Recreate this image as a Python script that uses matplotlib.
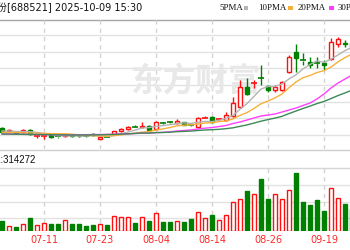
import matplotlib
matplotlib.use("Agg")
import matplotlib.pyplot as plt
from matplotlib.patches import Rectangle
from matplotlib.lines import Line2D

# ---------------- data ----------------
title = "芯原股份[688521] 2025-10-09 15:30"
tick_idx = [6, 14, 22, 30, 38, 46]
tick_labels = ["07-11", "07-23", "08-04", "08-14", "08-26", "09-19"]

opens = [88.4, 84.8, 83.6, 83.6, 86.0, 78.4, 78.4, 80.6, 78.8, 78.8, 80.0, 79.4, 79.4, 81.2, 75.8, 77.6,
         81.2, 84.8, 87.2, 89.6, 89.6, 90.8, 87.2, 94.4, 95.6, 94.4, 95.6, 92.6, 89.6, 99.8, 101.6, 98.6,
         98.0, 102.8, 113.6, 137.6, 141.8, 148.4, 138.8, 134.0, 134.0, 155.6, 179.6, 170.0, 167.6, 166.4,
         166.4, 171.2, 189.2, 191.0, 190.4]
closes = [83.6, 86.0, 82.4, 86.6, 81.2, 79.2, 79.2, 78.2, 78.2, 80.0, 78.8, 78.4, 78.8, 80.0, 77.6, 77.0,
          84.8, 87.8, 90.2, 89.0, 90.8, 86.6, 95.6, 93.8, 95.0, 96.8, 92.0, 92.0, 100.4, 100.4, 95.6, 99.2,
          104.0, 118.4, 137.6, 129.2, 142.4, 147.8, 134.0, 137.6, 143.6, 173.6, 172.4, 169.4, 164.0, 166.0,
          164.0, 191.6, 195.2, 189.8, 185.6]
highs = [89.6, 87.2, 84.8, 87.2, 87.2, 80.0, 79.4, 81.2, 79.4, 81.2, 80.6, 80.0, 80.0, 82.4, 78.2, 78.2,
         85.4, 88.4, 90.8, 92.0, 95.6, 91.4, 96.8, 95.6, 97.4, 99.2, 96.2, 93.8, 101.6, 102.8, 102.8, 100.4,
         107.6, 125.6, 146.0, 148.4, 146.0, 164.0, 140.0, 140.0, 144.8, 176.0, 189.2, 178.4, 173.6, 173.6,
         170.0, 196.4, 197.6, 194.0, 192.8]
lows = [82.4, 83.6, 81.2, 82.4, 80.0, 76.4, 75.8, 77.0, 77.0, 78.2, 78.2, 77.6, 78.2, 79.4, 75.2, 76.4,
        80.6, 84.2, 86.6, 88.4, 89.0, 86.0, 86.6, 92.6, 93.8, 93.8, 91.4, 90.8, 89.0, 99.8, 95.0, 97.4,
        97.4, 102.2, 113.0, 128.6, 136.4, 140.0, 131.6, 131.6, 133.4, 155.0, 155.6, 164.0, 160.4, 160.4,
        158.0, 170.6, 185.6, 185.6, 183.2]
volumes = [145000, 77000, 54000, 97000, 184000, 87000, 111000, 106000, 106000, 159000, 97000, 106000,
           72000, 83000, 97000, 83000, 222000, 207000, 207000, 120000, 198000, 149000, 256000, 126000,
           126000, 145000, 135000, 174000, 279000, 184000, 227000, 159000, 236000, 420000, 459000, 579000,
           536000, 749000, 463000, 531000, 459000, 594000, 844000, 424000, 372000, 445000, 294000, 618000,
           473000, 395000, 314272]
ma5 = [84.8, 84.8, 84.2, 84.2, 84.0, 83.1, 81.7, 80.8, 79.2, 78.9, 78.9, 78.7, 78.8, 79.2, 78.7, 78.3,
       79.6, 81.4, 83.5, 85.8, 88.5, 88.9, 90.4, 91.2, 92.4, 93.6, 94.6, 93.9, 95.2, 96.3, 96.1, 97.5,
       99.9, 103.5, 111.0, 117.7, 126.3, 135.1, 138.2, 138.2, 141.1, 147.3, 152.2, 159.3, 164.6, 169.0,
       167.1, 171.0, 176.1, 181.3, 185.2]
ma10 = [83.0, 83.0, 83.0, 82.6, 82.4, 82.2, 81.9, 81.7, 81.6, 81.4, 81.0, 80.1, 79.8, 79.2, 78.8, 78.6,
        79.2, 80.1, 81.3, 82.2, 83.4, 84.2, 85.9, 87.3, 89.0, 91.0, 91.8, 92.1, 93.2, 94.3, 94.8, 96.1,
        96.9, 99.3, 103.6, 106.9, 111.9, 117.4, 120.8, 124.5, 129.3, 136.8, 143.6, 148.8, 151.4, 155.0,
        157.2, 161.6, 167.7, 172.9, 177.1]
ma20 = [81.2, 81.1, 81.0, 80.8, 80.7, 80.6, 80.5, 80.4, 80.2, 80.2, 80.2, 80.2, 80.4, 80.5, 80.6, 80.7,
        81.0, 81.2, 81.4, 81.8, 82.2, 82.2, 82.8, 83.2, 83.8, 84.8, 85.4, 86.1, 87.2, 88.2, 89.0, 90.1,
        91.4, 93.8, 95.6, 98.0, 100.4, 102.8, 104.0, 105.2, 107.6, 110.0, 112.4, 115.4, 118.4, 123.2,
        129.2, 136.4, 142.4, 147.2, 152.0]
ma30 = [81.2, 81.1, 81.0, 80.8, 80.7, 80.6, 80.5, 80.4, 80.2, 80.1, 80.0, 80.0, 80.0, 80.1, 80.2, 80.5,
        80.7, 81.1, 81.4, 81.9, 82.4, 82.4, 82.9, 83.0, 83.4, 84.0, 84.3, 84.7, 85.4, 86.0, 86.4, 86.8,
        87.6, 88.6, 90.4, 92.1, 94.3, 96.6, 98.5, 100.3, 102.4, 105.7, 108.8, 111.8, 114.7, 117.7,
        120.3, 123.7, 127.3, 130.5, 133.8]
ma_names = ["5PMA", "10PMA", "20PMA", "30PMA"]
ma_colors = ["#b4b4b4", "#f7b03a", "#ff40ff", "#3b8a57"]
price_grid = [80, 100, 120, 140, 160, 180, 200]
last_vol_label = "VOL:314272"

# ---------------- layout helpers ----------------
W, H = 350, 250
def fx(px):
    return px / W
def fy(py):
    return 1 - py / H

UP = "#ff1010"
DOWN = "#008000"
GRID = "#e2e2e2"
VGRID = "#d2d2d2"

fig = plt.figure(figsize=(W / 100, H / 100), dpi=100)
fig.patch.set_facecolor("white")

X0, X1 = -2 / 7, 348 / 7
ax = fig.add_axes([0, fy(149), 1, (149 - 19) / H])
axv = fig.add_axes([0, fy(231), 1, (231 - 167) / H])
for a in (ax, axv):
    a.set_xlim(X0, X1)
    for s in a.spines.values():
        s.set_visible(False)
    a.set_yticks([])
    a.patch.set_alpha(0)
ax.set_xticks([])
ax.set_ylim(63.2, 219.2)
axv.set_ylim(0, 926720)

def hline_px(y, color):
    fig.add_artist(Line2D([0, 1], [fy(y + 0.5), fy(y + 0.5)], color=color, lw=1,
                          transform=fig.transFigure, zorder=0))

# frame / grid lines
hline_px(19, "#a6a6a6")
hline_px(149, "#cfcfcf")
hline_px(167, "#d6d6d6")
for y in (184, 201, 217):
    hline_px(y, GRID)
for p in price_grid:
    ax.axhline(p, color=GRID, lw=1, zorder=0)
for t in tick_idx:
    ax.axvline(t, color=VGRID, lw=1, ls=(0, (3, 3)), zorder=0)
    axv.axvline(t, color=VGRID, lw=1, ls=(0, (3, 3)), zorder=0)

# watermark
ax.text(fx(195), fy(81), "东方财富", transform=fig.transFigure, ha="center", va="center",
        fontsize=23.5, color="#e8e8e8", family="Noto Sans CJK SC", fontweight="bold", zorder=1)

# candles
for i, (o, h, l, c) in enumerate(zip(opens, highs, lows, closes)):
    up = c >= o
    col = UP if up else DOWN
    lo_b, hi_b = min(o, c), max(o, c)
    ax.vlines(i, l, lo_b, color=col, lw=1, zorder=3)
    ax.vlines(i, hi_b, h, color=col, lw=1, zorder=3)
    if hi_b - lo_b < 0.9:
        ax.hlines((o + c) / 2, i - 0.36, i + 0.36, color=col, lw=1.2, zorder=3)
    else:
        ax.add_patch(Rectangle((i - 0.3, lo_b), 0.6, hi_b - lo_b, facecolor="white" if up else col,
                               edgecolor=col, lw=1, zorder=3))

# moving averages
x = list(range(len(closes)))
for ser, colr in zip([ma5, ma10, ma20, ma30], ma_colors):
    ax.plot(x, ser, color=colr, lw=1, zorder=4)

# volume
for i, (o, c, v) in enumerate(zip(opens, closes, volumes)):
    up = c >= o
    col = UP if up else DOWN
    axv.add_patch(Rectangle((i - 0.3, 0), 0.6, v, facecolor="white" if up else col,
                            edgecolor=col, lw=1, zorder=3))

axv.set_xticks(tick_idx, labels=tick_labels)
axv.tick_params(axis="x", length=0, pad=3, labelsize=7, labelcolor="#ff2a2a")

# title and legend
fig.text(fx(142), fy(8), title, ha="right", va="center", fontsize=7, color="#111111",
         family=["DejaVu Sans", "Noto Sans CJK SC"])
leg_x = [219, 258, 298, 338]
sw_x = [243.5, 288, 328.5, 378]
for name, colr, lx, sx in zip(ma_names, ma_colors, leg_x, sw_x):
    fig.text(fx(lx), fy(8), name, ha="left", va="center", fontsize=6.4, color="#111111",
             family="Liberation Serif")
    fig.add_artist(Rectangle((fx(sx), fy(9.5)), fx(5), 3 / H, facecolor=colr, edgecolor="none",
                             transform=fig.transFigure))

fig.text(fx(36), fy(160), last_vol_label, ha="right", va="center", fontsize=7, color="#111111",
         family="Liberation Sans")

fig.savefig("out.png", dpi=100)
